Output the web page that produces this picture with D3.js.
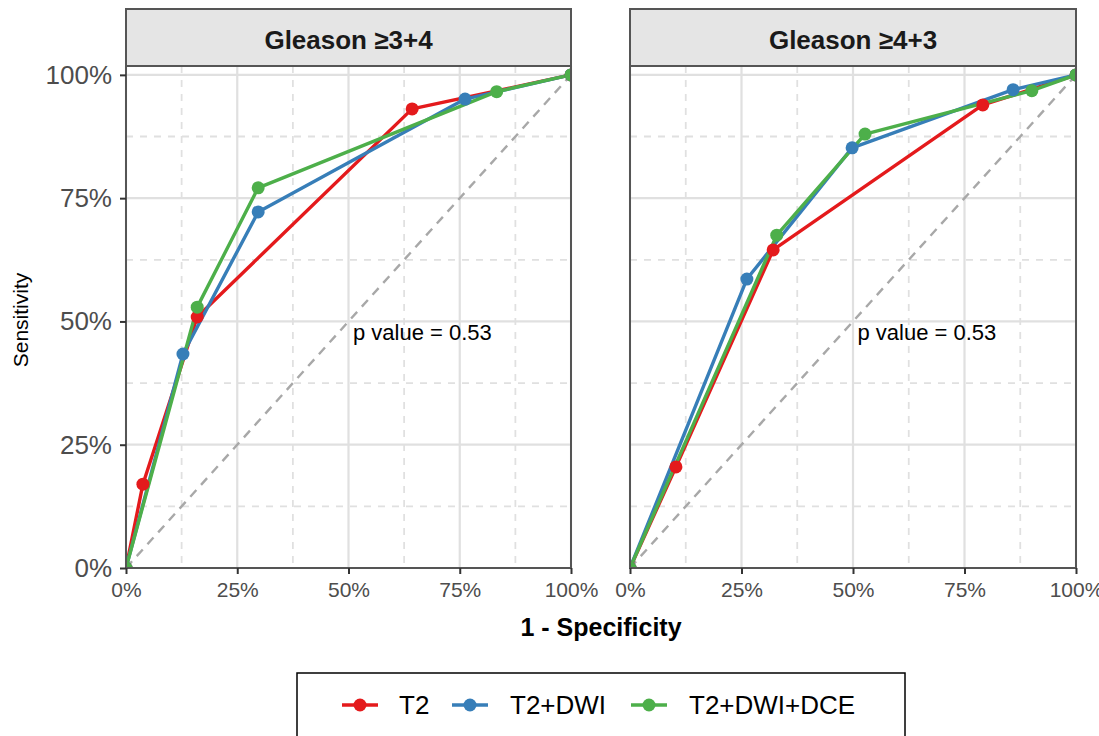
<!DOCTYPE html>
<html>
<head>
<meta charset="utf-8">
<script src="https://cdn.jsdelivr.net/npm/d3@7"></script>
<style>
  html, body { margin: 0; padding: 0; background: #ffffff; }
  svg { display: block; }
  text { font-family: "Liberation Sans", Arial, sans-serif; }
</style>
</head>
<body>
<svg id="chart" width="1099" height="736"></svg>
<script>
// ---------------- data ----------------
const panels = ["Gleason ≥3+4", "Gleason ≥4+3"];
const seriesNames = ["T2", "T2+DWI", "T2+DWI+DCE"];
const seriesColors = ["#E41A1C", "#377EB8", "#4DAF4A"];

// 1 - specificity (x) and sensitivity (y) per panel and series
const p1_T2_x      = [0, 0.038, 0.160, 0.643, 1];
const p1_T2_y      = [0, 0.170, 0.509, 0.931, 1];
const p1_DWI_x     = [0, 0.128, 0.297, 0.762, 1];
const p1_DWI_y     = [0, 0.434, 0.722, 0.951, 1];
const p1_DCE_x     = [0, 0.160, 0.297, 0.833, 1];
const p1_DCE_y     = [0, 0.529, 0.771, 0.966, 1];

const p2_T2_x      = [0, 0.103, 0.321, 0.791, 1];
const p2_T2_y      = [0, 0.205, 0.645, 0.939, 1];
const p2_DWI_x     = [0, 0.262, 0.498, 0.859, 1];
const p2_DWI_y     = [0, 0.586, 0.852, 0.970, 1];
const p2_DCE_x     = [0, 0.329, 0.527, 0.901, 1];
const p2_DCE_y     = [0, 0.675, 0.880, 0.968, 1];

const majorTicks = [0, 0.25, 0.5, 0.75, 1];
const minorTicks = [0.125, 0.375, 0.625, 0.875];
const tickLabels = ["0%", "25%", "50%", "75%", "100%"];
const pValueText = ["p value = 0.53", "p value = 0.53"];
const pValueX = [0.51, 0.51];
const pValueY = [0.463, 0.463];

const panelData = [
  [[p1_T2_x, p1_T2_y], [p1_DWI_x, p1_DWI_y], [p1_DCE_x, p1_DCE_y]],
  [[p2_T2_x, p2_T2_y], [p2_DWI_x, p2_DWI_y], [p2_DCE_x, p2_DCE_y]]
];

// ---------------- layout ----------------
const svg = d3.select("#chart");
svg.append("rect").attr("width", 1099).attr("height", 736).attr("fill", "#fff");

const panelX = [[126, 571], [630, 1076]];
const panelTop = 66, panelBottom = 568, stripTop = 9;
const borderCol = "#555555";
const gridCol = "#e0e0e0";

const y = d3.scaleLinear().domain([0, 1.018]).range([panelBottom, panelTop]);

panels.forEach((title, pi) => {
  const [x0, x1] = panelX[pi];
  const x = d3.scaleLinear().domain([0, 1]).range([x0, x1]);
  const g = svg.append("g");

  const clipId = "clip" + pi;
  svg.append("clipPath").attr("id", clipId)
    .append("rect").attr("x", x0).attr("y", panelTop).attr("width", x1 - x0).attr("height", panelBottom - panelTop);

  // minor grid (dashed)
  g.selectAll(".mgx").data(minorTicks).join("line")
    .attr("x1", d => x(d)).attr("x2", d => x(d)).attr("y1", panelTop).attr("y2", panelBottom)
    .attr("stroke", gridCol).attr("stroke-width", 1.8).attr("stroke-dasharray", "7,7");
  g.selectAll(".mgy").data(minorTicks).join("line")
    .attr("y1", d => y(d)).attr("y2", d => y(d)).attr("x1", x0).attr("x2", x1)
    .attr("stroke", gridCol).attr("stroke-width", 1.8).attr("stroke-dasharray", "7,7");
  // major grid
  g.selectAll(".Mgx").data(majorTicks).join("line")
    .attr("x1", d => x(d)).attr("x2", d => x(d)).attr("y1", panelTop).attr("y2", panelBottom)
    .attr("stroke", gridCol).attr("stroke-width", 2.2);
  g.selectAll(".Mgy").data(majorTicks).join("line")
    .attr("y1", d => y(d)).attr("y2", d => y(d)).attr("x1", x0).attr("x2", x1)
    .attr("stroke", gridCol).attr("stroke-width", 2.2);

  // diagonal reference
  g.append("line")
    .attr("x1", x(0)).attr("y1", y(0)).attr("x2", x(1)).attr("y2", y(1))
    .attr("stroke", "#a8a8a8").attr("stroke-width", 2.4).attr("stroke-dasharray", "9,7");

  // p value
  g.append("text")
    .attr("x", x(pValueX[pi])).attr("y", y(pValueY[pi]))
    .attr("font-size", 22).attr("fill", "#000")
    .text(pValueText[pi]);

  const plot = g.append("g").attr("clip-path", `url(#${clipId})`);
  const line = d3.line().x(d => x(d[0])).y(d => y(d[1]));

  panelData[pi].forEach((s, si) => {
    const pts = s[0].map((v, i) => [v, s[1][i]]);
    plot.append("path").datum(pts)
      .attr("d", line).attr("fill", "none")
      .attr("stroke", seriesColors[si]).attr("stroke-width", 3.4)
      .attr("stroke-linejoin", "round");
  });
  panelData[pi].forEach((s, si) => {
    const pts = s[0].map((v, i) => [v, s[1][i]]);
    plot.selectAll(".pt" + si).data(pts).join("circle")
      .attr("cx", d => x(d[0])).attr("cy", d => y(d[1])).attr("r", 6.5)
      .attr("fill", seriesColors[si]);
  });

  // panel border
  g.append("rect").attr("x", x0).attr("y", panelTop).attr("width", x1 - x0).attr("height", panelBottom - panelTop)
    .attr("fill", "none").attr("stroke", borderCol).attr("stroke-width", 2);

  // strip
  g.append("rect").attr("x", x0).attr("y", stripTop).attr("width", x1 - x0).attr("height", panelTop - stripTop)
    .attr("fill", "#e5e5e5").attr("stroke", borderCol).attr("stroke-width", 2);
  g.append("text").attr("x", (x0 + x1) / 2).attr("y", 49)
    .attr("text-anchor", "middle").attr("font-size", 26).attr("font-weight", "bold").attr("fill", "#1a1a1a")
    .text(title);

  // x axis
  const xAxis = d3.axisBottom(x).tickValues(majorTicks).tickSize(6).tickPadding(8)
    .tickFormat((d, i) => tickLabels[i]);
  const xa = g.append("g").attr("transform", `translate(0,${panelBottom})`).call(xAxis);
  xa.select(".domain").remove();
  xa.selectAll(".tick line").attr("stroke", "#333").attr("stroke-width", 2);
  xa.selectAll(".tick text").attr("font-size", 21).attr("fill", "#4d4d4d")
    .attr("font-family", "Liberation Sans, Arial, sans-serif").attr("dy", "0.71em");

  // y axis only on first panel
  if (pi === 0) {
    const yAxis = d3.axisLeft(y).tickValues(majorTicks).tickSize(6).tickPadding(8)
      .tickFormat((d, i) => tickLabels[i]);
    const ya = g.append("g").attr("transform", `translate(${x0},0)`).call(yAxis);
    ya.select(".domain").remove();
    ya.selectAll(".tick line").attr("stroke", "#333").attr("stroke-width", 2);
    ya.selectAll(".tick text").attr("font-size", 26).attr("fill", "#4d4d4d")
      .attr("font-family", "Liberation Sans, Arial, sans-serif");
  }
});

// axis titles
svg.append("text").attr("x", 601).attr("y", 636).attr("text-anchor", "middle")
  .attr("font-size", 25).attr("font-weight", "bold").attr("fill", "#000").text("1 - Specificity");
svg.append("text").attr("transform", "translate(28,320) rotate(-90)").attr("text-anchor", "middle")
  .attr("font-size", 21).attr("fill", "#000").text("Sensitivity");

// legend
const legendG = svg.append("g");
legendG.append("rect").attr("x", 297).attr("y", 673).attr("width", 608).attr("height", 80)
  .attr("fill", "#fff").attr("stroke", "#000").attr("stroke-width", 1.5);
const legendKeyX = [342, 452, 631];
const legendTextX = [399, 510, 689];
const legendY = 705;
seriesNames.forEach((name, i) => {
  legendG.append("line").attr("x1", legendKeyX[i]).attr("x2", legendKeyX[i] + 36)
    .attr("y1", legendY).attr("y2", legendY).attr("stroke", seriesColors[i]).attr("stroke-width", 3.4);
  legendG.append("circle").attr("cx", legendKeyX[i] + 18).attr("cy", legendY).attr("r", 6.5).attr("fill", seriesColors[i]);
  legendG.append("text").attr("x", legendTextX[i]).attr("y", legendY).attr("dy", "0.36em")
    .attr("font-size", 26).attr("fill", "#000").text(name);
});
</script>
</body>
</html>
